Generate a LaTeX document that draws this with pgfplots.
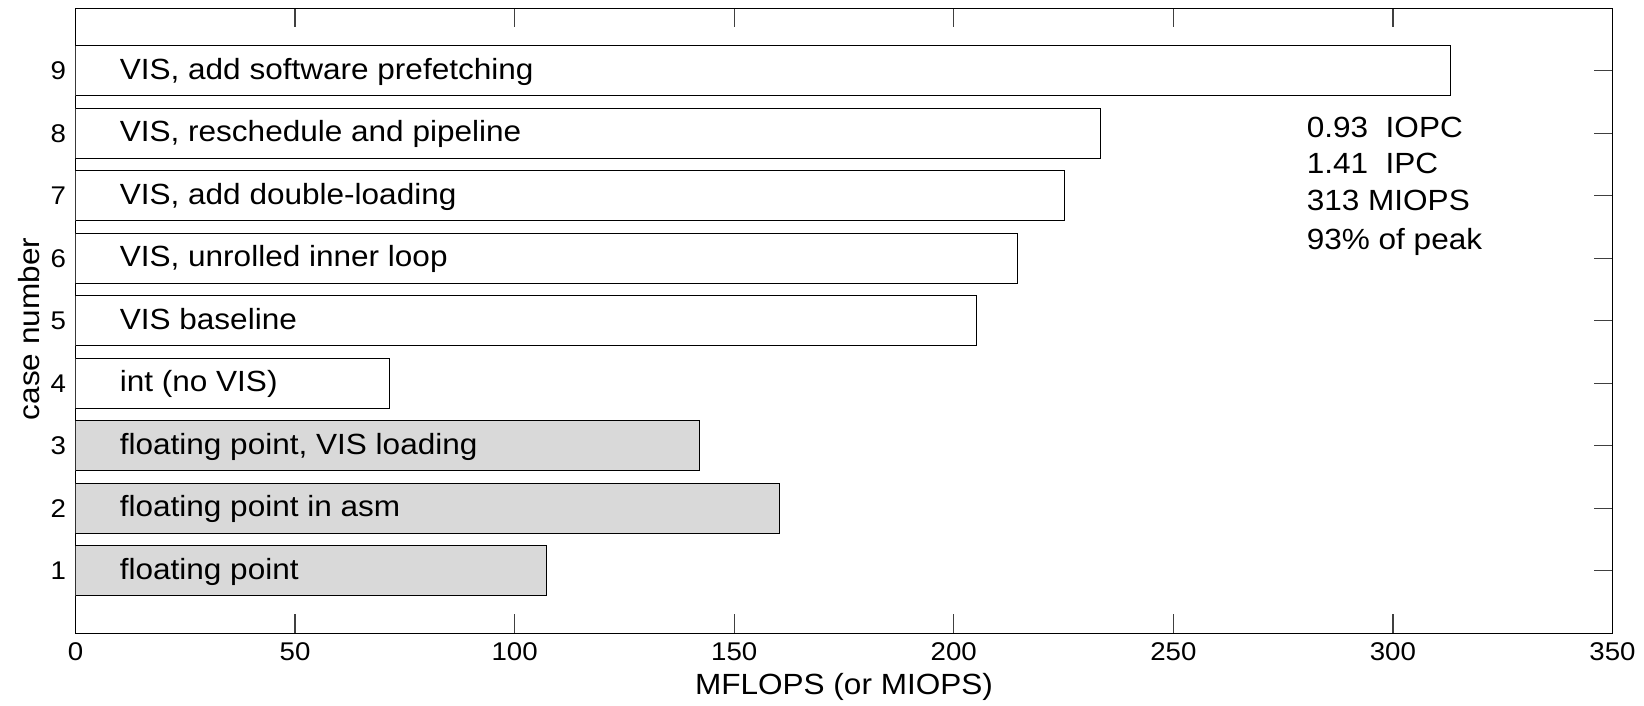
\documentclass[border=0pt]{standalone}
\usepackage{fontspec}
\setmainfont{Liberation Sans}[FakeStretch=1.08]
\usepackage{pgfplots}
\pgfplotsset{compat=1.18}
\definecolor{barg}{RGB}{217,217,217}
\tikzset{barlbl/.style={anchor=base west, inner sep=0pt, font=\fontsize{14.6}{17}\selectfont, yshift=-4.1pt},
  annlbl/.style={anchor=base west, inner sep=0pt, font=\fontsize{14.6}{17}\selectfont, yshift=-5.2pt}}
\begin{document}
\begin{tikzpicture}
\path[use as bounding box] (-37.75pt,-35.85pt) rectangle (784.25pt,316.7pt);
\begin{axis}[
  at={(0,0)}, anchor=south west,
  scale only axis, width=768.5pt, height=312.5pt,
  xmin=0, xmax=350, ymin=0, ymax=10,
  xtick={0,50,...,350}, ytick={1,...,9},
  tick align=inside, tick pos=both,
  major tick length=9.5pt,
  every tick/.style={black!75, line width=0.6pt},
  axis line style={line width=0.8pt},
  /pgf/number format/assume math mode=true,
  ticklabel style={font=\fontsize{12.8}{14}\selectfont},
  xticklabel style={anchor=center, yshift=-9.35pt},
  yticklabel style={anchor=center, xshift=-8.6pt},
  xlabel={MFLOPS (or MIOPS)},
  ylabel={case number},
  label style={font=\fontsize{14.6}{17}\selectfont},
  xlabel style={at={(axis description cs:0.5,-0.0854)}, anchor=center},
  ylabel style={at={(axis description cs:-0.0299,0.487)}, anchor=center},
]
\addplot[xbar, bar shift=0pt, bar width=0.8, fill=barg, draw=black, line width=0.5pt]
  coordinates {(107.2,1) (160.2,2) (142.0,3)};
\addplot[xbar, bar shift=0pt, bar width=0.8, fill=white, draw=black, line width=0.5pt]
  coordinates {(71.6,4) (205.1,5) (214.6,6) (225.1,7) (233.5,8) (313.2,9)};
\node[barlbl] at (axis cs:10,1) {floating point};
\node[barlbl] at (axis cs:10,2) {floating point in asm};
\node[barlbl] at (axis cs:10,3) {floating point, VIS loading};
\node[barlbl] at (axis cs:10,4) {int (no VIS)};
\node[barlbl] at (axis cs:10,5) {VIS baseline};
\node[barlbl] at (axis cs:10,6) {VIS, unrolled inner loop};
\node[barlbl] at (axis cs:10,7) {VIS, add double-loading};
\node[barlbl] at (axis cs:10,8) {VIS, reschedule and pipeline};
\node[barlbl] at (axis cs:10,9) {VIS, add software prefetching};
\node[annlbl] at (axis cs:280.3,8.10) {0.93\ \ IOPC};
\node[annlbl] at (axis cs:280.3,7.52) {1.41\ \ IPC};
\node[annlbl] at (axis cs:280.3,6.93) {313 MIOPS};
\node[annlbl] at (axis cs:280.3,6.31) {93\% of peak};
\end{axis}
\end{tikzpicture}
\end{document}
